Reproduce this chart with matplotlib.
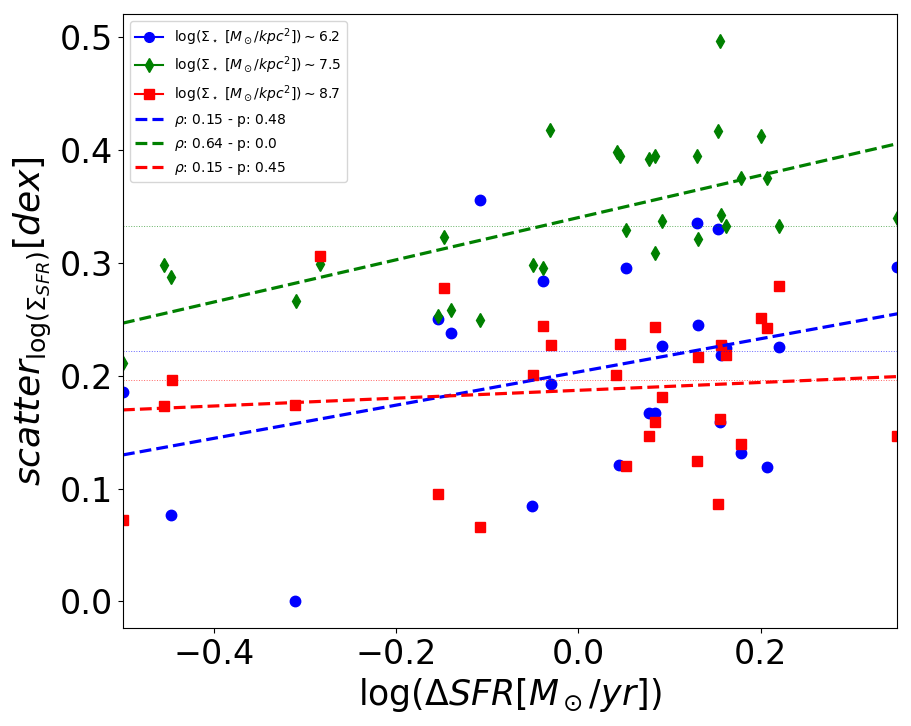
import matplotlib
matplotlib.use('Agg')
import matplotlib.pyplot as plt
from matplotlib.lines import Line2D
import numpy as np

# data
x_low = [-0.5, -0.4473, -0.311, -0.1546, -0.1403, -0.1077, -0.0505, -0.0392, -0.0304,
         0.0443, 0.052, 0.0773, 0.0839, 0.0912, 0.1297, 0.1311, 0.1531, 0.1555, 0.156,
         0.1619, 0.1782, 0.2066, 0.2201, 0.35]
y_low = [0.1855, 0.0763, 0.0, 0.2505, 0.238, 0.3558, 0.0843, 0.2839, 0.1925,
         0.121, 0.2955, 0.1668, 0.1668, 0.2263, 0.3357, 0.2452, 0.330, 0.1588, 0.2185,
         0.2245, 0.1313, 0.1189, 0.2256, 0.2964]

x_mid = [-0.5, -0.4546, -0.4473, -0.3106, -0.2835, -0.1546, -0.148, -0.1403, -0.1077,
         -0.0502, -0.0392, -0.0308, 0.0418, 0.0454, 0.052, 0.0773, 0.0839, 0.0839, 0.0912,
         0.130, 0.1311, 0.1531, 0.155, 0.1564, 0.1619, 0.1784, 0.2003, 0.2066, 0.2201, 0.35]
y_mid = [0.2112, 0.2981, 0.2875, 0.2665, 0.299, 0.2534, 0.323, 0.2582, 0.2493,
         0.2981, 0.2955, 0.418, 0.398, 0.3951, 0.3295, 0.392, 0.3945, 0.3088, 0.3374,
         0.3948, 0.3212, 0.4173, 0.4966, 0.3422, 0.3327, 0.3753, 0.4126, 0.375, 0.3327, 0.3398]

x_high = [-0.5, -0.4546, -0.4466, -0.311, -0.2835, -0.1546, -0.148, -0.1077, -0.0502,
          -0.0392, -0.0304, 0.041, 0.0451, 0.052, 0.0773, 0.0839, 0.0839, 0.0912, 0.130,
          0.1311, 0.1531, 0.1553, 0.156, 0.1619, 0.1784, 0.2003, 0.2066, 0.2201, 0.35]
y_high = [0.0721, 0.173, 0.1964, 0.1739, 0.3058, 0.0949, 0.278, 0.0659, 0.2005,
          0.2443, 0.2271, 0.2005, 0.2283, 0.120, 0.1467, 0.2431, 0.1588, 0.181, 0.1242,
          0.2165, 0.0861, 0.1618, 0.2274, 0.2185, 0.1393, 0.2511, 0.2422, 0.2795, 0.1464]

# linear fits (slope, intercept) and mean levels
fit_slope = [0.1472, 0.1872, 0.0348]
fit_icpt = [0.2034, 0.3403, 0.1871]
mean_level = [0.2218, 0.3327, 0.1963]

labels = [r'$\log(\Sigma_\star\ [M_\odot/kpc^2])\sim 6.2$',
          r'$\log(\Sigma_\star\ [M_\odot/kpc^2])\sim 7.5$',
          r'$\log(\Sigma_\star\ [M_\odot/kpc^2])\sim 8.7$']
fit_labels = [r'$\rho$: 0.15 - p: 0.48', r'$\rho$: 0.64 - p: 0.0', r'$\rho$: 0.15 - p: 0.45']

colors = ['blue', 'green', 'red']
markers = ['o', 'd', 's']
xs = [x_low, x_mid, x_high]
ys = [y_low, y_mid, y_high]

fig = plt.figure(figsize=(9.11, 7.26), dpi=100)
ax = fig.add_axes([0.135, 0.135, 0.85, 0.846])

xlim = (-0.5, 0.35)
xx = np.linspace(xlim[0], xlim[1], 50)

handles = []
for i in range(3):
    ax.plot(xs[i], ys[i], linestyle='none', marker=markers[i], color=colors[i], ms=7.5)
    handles.append(Line2D([], [], color=colors[i], marker=markers[i], ms=7, lw=1.5, label=labels[i]))
for i in range(3):
    ax.plot(xx, fit_slope[i] * xx + fit_icpt[i], '--', color=colors[i], lw=2.3)
    ax.axhline(mean_level[i], color=colors[i], ls=':', lw=0.7, alpha=0.6)
    handles.append(Line2D([], [], color=colors[i], ls='--', lw=2.3, label=fit_labels[i]))

ax.set_xlim(xlim)
ax.set_ylim(-0.0237, 0.521)
ax.tick_params(labelsize=24)
ax.set_xlabel(r'$\log(\Delta SFR[M_\odot/yr])$', fontsize=25)
ax.set_ylabel(r'$scatter_{\log(\Sigma_{SFR})}[dex]$', fontsize=26)
ax.legend(handles=handles, loc='upper left', fontsize=10)

plt.savefig('out.png', dpi=100)
